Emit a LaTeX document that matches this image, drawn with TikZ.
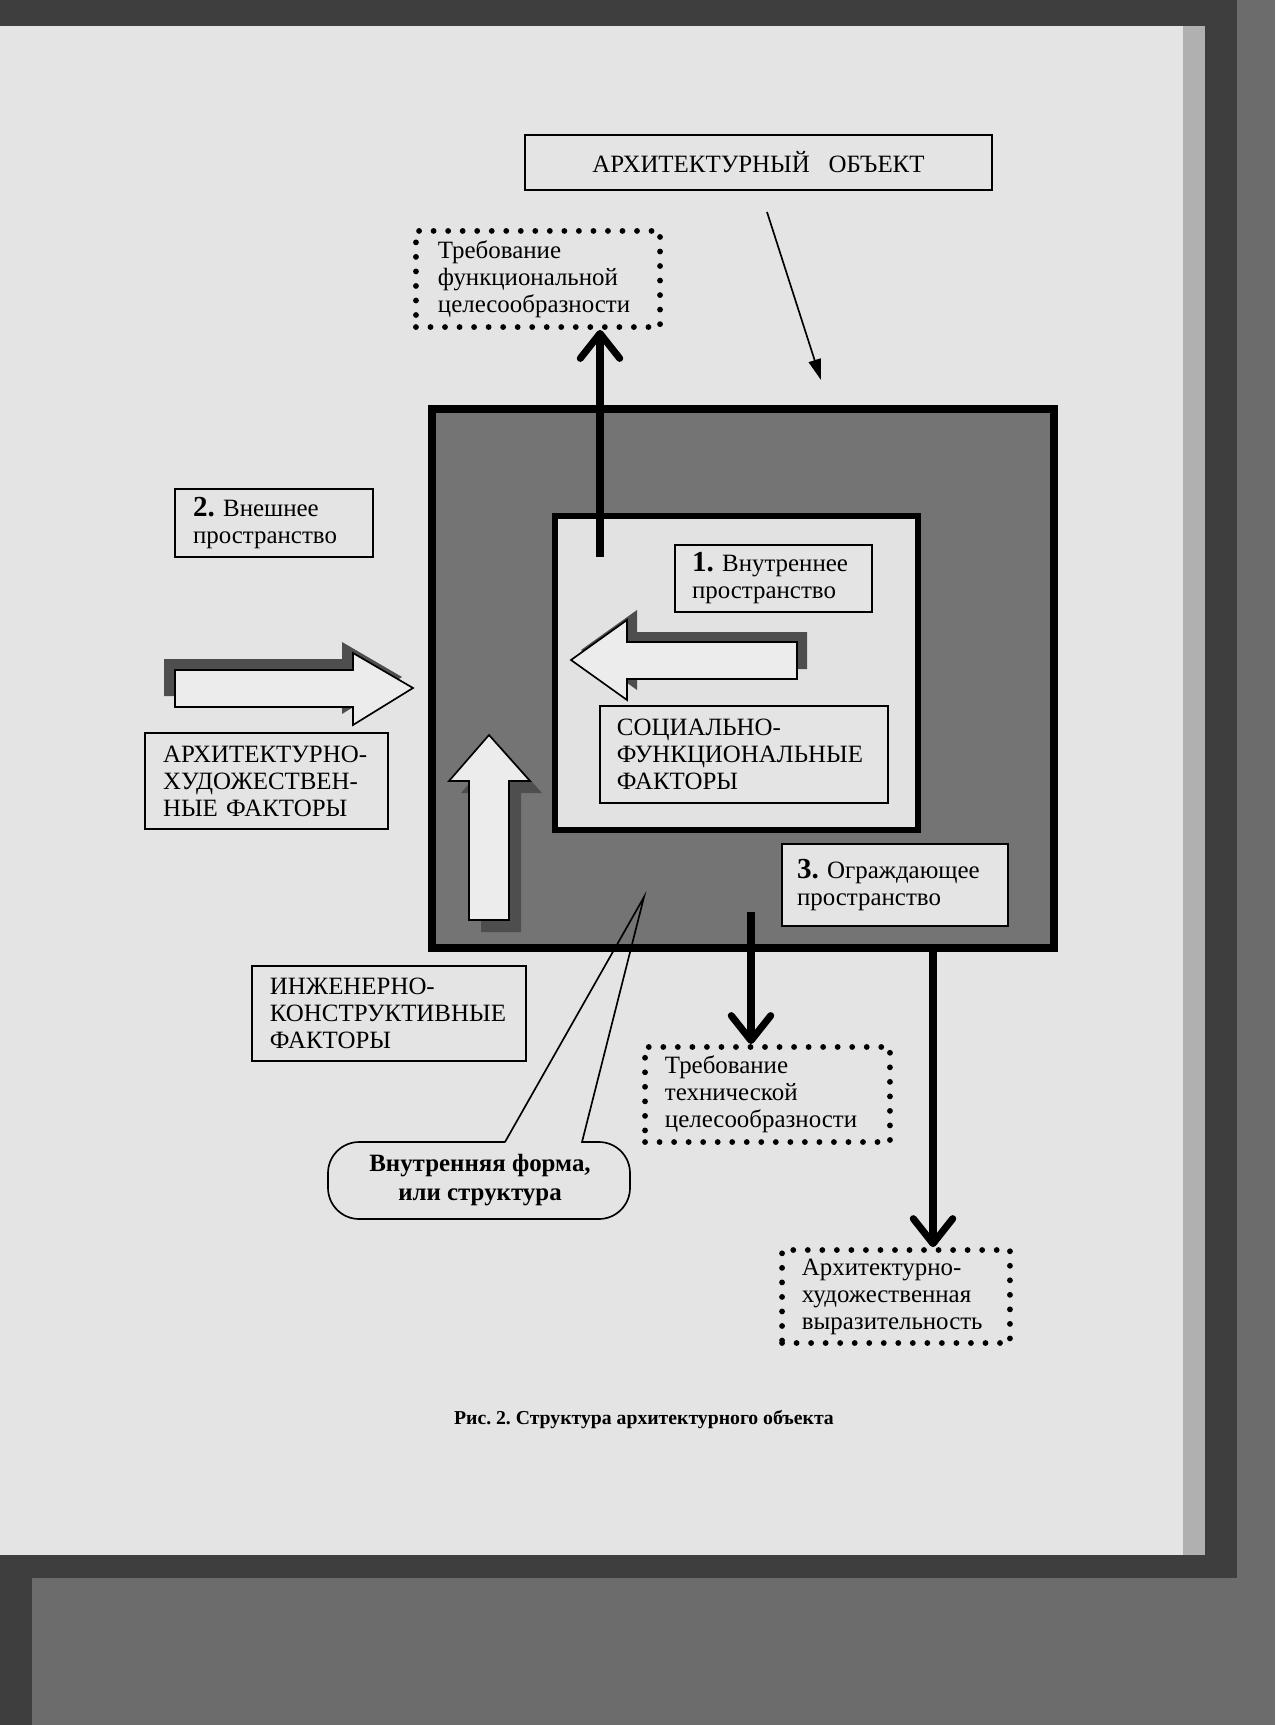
\documentclass[tikz,border=0pt]{standalone}
\usepackage{fontspec}
\setmainfont{Liberation Serif}
\usetikzlibrary{arrows.meta}
\frenchspacing

\definecolor{paper}{RGB}{228,228,228}
\definecolor{scanbg}{RGB}{108,108,108}
\definecolor{scandark}{RGB}{62,62,62}
\definecolor{paperedge}{RGB}{176,176,176}
\definecolor{wallgray}{RGB}{116,116,116}
\definecolor{roomgray}{RGB}{226,226,226}
\definecolor{shadowgray}{RGB}{78,78,78}
\definecolor{arrowfill}{RGB}{236,236,236}

\begin{document}
\begin{tikzpicture}[x=0.4818pt, y=-0.4818pt,
    labelbox/.style={draw, line width=0.8pt, fill=paper, align=left,
        font=\fontsize{12}{13}\selectfont},
    dotbox/.style={draw, line width=2.8pt, line cap=round,
        dash pattern=on 0pt off 7pt, align=left,
        font=\fontsize{12}{13}\selectfont},
    fatarrow/.style={line width=3.4pt,
        -{Straight Barb[length=12pt, width=19pt, round]}},
    blockarrow/.style={draw, line width=0.8pt, fill=arrowfill},
    blockshadow/.style={fill=shadowgray}]

% One pixel of the scan
\def\pxl{0.4818pt}

% Scanned page
\useasboundingbox (0,0) rectangle (1275,1725);
\fill[scanbg] (0,0) rectangle (1275,1725);
\fill[scandark] (0,0) rectangle (1237,26);
\fill[scandark] (1205,0) rectangle (1237,1578);
\fill[scandark] (0,1555) rectangle (1222,1578);
\fill[scandark] (0,1578) rectangle (32,1725);
\fill[paperedge] (1183,26) rectangle (1205,1555);
\fill[paper] (0,26) rectangle (1183,1555);

% Enclosing space and inner space
\node[draw, line width=3.4pt, fill=wallgray, inner sep=0pt,
    minimum width=622*\pxl, minimum height=539*\pxl] (outer) at (743,678.5) {};
\node[draw, line width=2.9pt, fill=roomgray, inner sep=0pt,
    minimum width=363*\pxl, minimum height=314*\pxl] (inner) at (736.5,673) {};

% Block arrow from the left
\fill[blockshadow, shift={(-11,-11)}]
    (175,670) -- (353,670) -- (353,653) -- (413,688)
    -- (353,725) -- (353,707) -- (175,707) -- cycle;
\draw[blockarrow]
    (175,670) -- (353,670) -- (353,653) -- (413,688)
    -- (353,725) -- (353,707) -- (175,707) -- cycle;

% Block arrow from below
\fill[blockshadow, shift={(12,12)}]
    (469,920) -- (469,781) -- (449,781) -- (489,735)
    -- (530,781) -- (509,781) -- (509,920) -- cycle;
\draw[blockarrow]
    (469,920) -- (469,781) -- (449,781) -- (489,735)
    -- (530,781) -- (509,781) -- (509,920) -- cycle;

% Block arrow inside
\fill[blockshadow, shift={(10,-10)}]
    (797,642) -- (627,642) -- (627,620) -- (571,660)
    -- (627,700) -- (627,679) -- (797,679) -- cycle;
\draw[blockarrow]
    (797,642) -- (627,642) -- (627,620) -- (571,660)
    -- (627,700) -- (627,679) -- (797,679) -- cycle;

% Labels
\node[labelbox, align=center, minimum width=467*\pxl, minimum height=55*\pxl]
    (obj) at (758.5,162.5) {АРХИТЕКТУРНЫЙ\hspace{0.5em} ОБЪЕКТ};
\node[labelbox, text width=78pt, inner xsep=8.7pt, minimum height=32.8pt]
    (ext) at (274,523) {{\bfseries\fontsize{14}{13}\selectfont 2.} Внешнее\\пространство};
\node[labelbox, text width=99.7pt, inner xsep=8.7pt, minimum height=46.3pt]
    (artf) at (266.5,781) {АРХИТЕКТУРНО-\\ХУДОЖЕСТВЕН-\\НЫЕ ФАКТОРЫ};
\node[labelbox, text width=78.5pt, inner xsep=8.2pt, minimum height=32.3pt]
    (intsp) at (773.5,578.5) {{\bfseries\fontsize{14}{13}\selectfont 1.} Внутреннее\\пространство};
\node[labelbox, text width=122.4pt, inner xsep=8.2pt, minimum height=46.7pt]
    (socf) at (744,754.5) {СОЦИАЛЬНО-\\ФУНКЦИОНАЛЬНЫЕ\\ФАКТОРЫ};
\node[labelbox, text width=94.4pt, inner xsep=7.2pt, minimum height=39.5pt]
    (encl) at (895,885) {{\bfseries\fontsize{14}{13}\selectfont 3.} Ограждающее\\пространство};
\node[labelbox, text width=114.7pt, inner xsep=8.7pt, minimum height=45.8pt]
    (engf) at (389,1013.5) {ИНЖЕНЕРНО-\\КОНСТРУКТИВНЫЕ\\ФАКТОРЫ};

% Requirements
\node[dotbox, text width=96.4pt, inner xsep=10.6pt, minimum height=46.3pt]
    (funcreq) at (538,279) {Требование\\функциональной\\целесообразности};
\node[dotbox, text width=98.8pt, inner xsep=9.6pt, minimum height=45.8pt]
    (techreq) at (767.5,1094.5) {Требование\\технической\\целесообразности};
\node[dotbox, text width=90.6pt, inner xsep=9.6pt, minimum height=44.8pt]
    (artreq) at (896,1296.5) {Архитектурно-\\художественная\\выразительность};

% Thick arrows
\coordinate (funcfrom) at (600,557);
\coordinate (techfrom) at (751,912);
\coordinate (artfrom) at (933,948);
\draw[fatarrow] (funcfrom) -- (funcfrom |- funcreq.south);
\draw[fatarrow] (techfrom) -- (techfrom |- techreq.north);
\draw[fatarrow] (artfrom) -- (artfrom |- artreq.north);

% Thin arrow from the title
\coordinate (objfrom) at (767,212);
\coordinate (objto) at (821,380);
\draw[line width=0.8pt, -{Triangle[length=10pt, width=6pt]}] (objfrom) -- (objto);

% Callout
\coordinate (formtip) at (644,897);
\draw[line width=0.8pt] (505,1142) -- (formtip) -- (582,1142) -- (600,1142)
    [rounded corners=15pt] -- (630,1142) -- (630,1219) -- (328,1219)
    -- (328,1142) -- (505,1142);
\node[font=\fontsize{12}{14}\selectfont\bfseries, align=center]
    (form) at (480,1180) {Внутренняя форма,\\или структура};

% Caption
\node[font=\fontsize{9.5}{12}\selectfont\bfseries]
    (caption) at (644,1420) {Рис. 2. Структура архитектурного объекта};

\end{tikzpicture}
\end{document}
